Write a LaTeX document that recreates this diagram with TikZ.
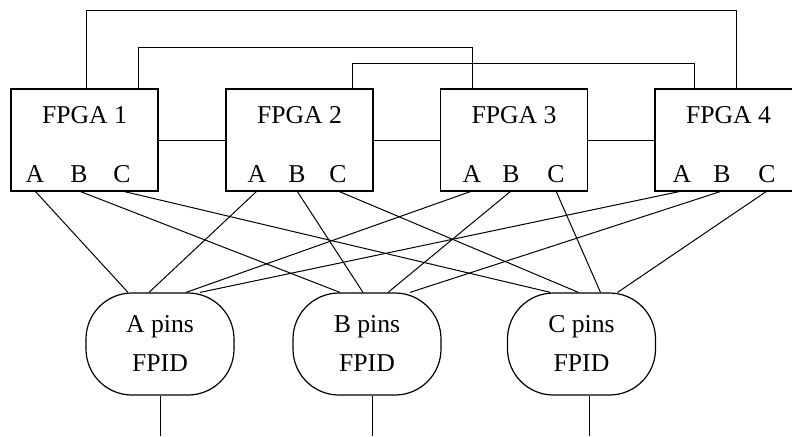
\documentclass[tikz,border=0pt]{standalone}
\usepackage{fontspec}
\setmainfont{Liberation Serif}

\begin{document}
\begin{tikzpicture}[
    x=0.5pt, y=-0.5pt,
    every node/.style={color=black, font=\fontsize{12.85}{19.5}\selectfont},
    box/.style={draw, line width=0.6pt, minimum width=73.5pt, inner sep=0pt,
    text height=17pt, text depth=34pt},
    pin/.style={inner xsep=0pt, inner ysep=4pt, text depth=0pt, anchor=south},
    fpid/.style={draw, line width=0.6pt, rounded corners=23pt, minimum width=74pt,
    minimum height=51pt, inner sep=0pt, align=center},
    wire/.style={line width=0.5pt}
    ]

\clip (0,0) rectangle (792,436);

\node[box] (f1) at (84.5,140) {FPGA 1};
\node[box] (f2) at (299.5,140) {FPGA 2};
\node[box] (f3) at (514,140) {FPGA 3};
\node[box] (f4) at (728.5,140) {FPGA 4};

\node[pin] (a1) at (35,191) {A};
\node[pin] (b1) at (79,191) {B};
\node[pin] (c1) at (122,191) {C};

\node[pin] (a2) at (257,191) {A};
\node[pin] (b2) at (297,191) {B};
\node[pin] (c2) at (338,191) {C};

\node[pin] (a3) at (472,191) {A};
\node[pin] (b3) at (511,191) {B};
\node[pin] (c3) at (556,191) {C};

\node[pin] (a4) at (682,191) {A};
\node[pin] (b4) at (722,191) {B};
\node[pin] (c4) at (767,191) {C};

\node[fpid] (pa) at (160,344) {A pins\\FPID};
\node[fpid] (pb) at (367,344) {B pins\\FPID};
\node[fpid] (pc) at (581.5,344) {C pins\\FPID};

\draw[wire] (f1.east) -- (f2.west);
\draw[wire] (f2.east) -- (f3.west);
\draw[wire] (f3.east) -- (f4.west);

\draw[wire] ([xshift=0.75pt]f1.north) -- ++(0,-78) -| ([xshift=3.75pt]f4.north);
\draw[wire] ([xshift=26.75pt]f1.north) -- ++(0,-41) -| ([xshift=-21pt]f3.north);
\draw[wire] ([xshift=26.25pt]f2.north) -- ++(0,-25) -| ([xshift=-17.25pt]f4.north);

\draw[wire] (a1.south) -- ([xshift=-16pt]pa.north);
\draw[wire] (a2.south) -- ([xshift=-5.5pt]pa.north);
\draw[wire] (a3.south) -- ([xshift=13pt]pa.north);
\draw[wire] (a4.south) -- ([xshift=20pt]pa.north);

\draw[wire] (b1.south) -- ([xshift=-13.5pt]pb.north);
\draw[wire] (b2.south) -- ([xshift=-2pt]pb.north);
\draw[wire] (b3.south) -- ([xshift=10.5pt]pb.north);
\draw[wire] (b4.south) -- ([xshift=21.5pt]pb.north);

\draw[wire] (c1.south) -- ([xshift=-15.5pt]pc.north);
\draw[wire] (c2.south) -- ([xshift=-1.5pt]pc.north);
\draw[wire] (c3.south) -- ([xshift=9.5pt]pc.north);
\draw[wire] (c4.south) -- ([xshift=18pt]pc.north);

\coordinate (outa) at (160,436);
\coordinate (outb) at (372,436);
\coordinate (outc) at (589,436);

\draw[wire] (outa |- pa.south) -- (outa);
\draw[wire] (outb |- pb.south) -- (outb);
\draw[wire] (outc |- pc.south) -- (outc);

\end{tikzpicture}
\end{document}
